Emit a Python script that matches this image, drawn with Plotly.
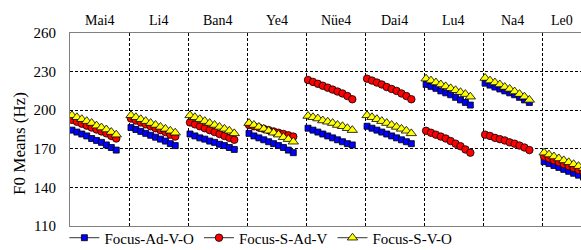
import plotly.graph_objects as go

syllables = ["Mai4", "Li4", "Ban4", "Ye4", "Nüe4", "Dai4", "Lu4", "Na4", "Le0"]
y_ticks = [110, 140, 170, 200, 230, 260]

focus_ad_v_o = [
    [184.5, 183.0, 181.5, 180.0, 178.0, 176.5, 175.0, 173.0, 171.0, 169.0],
    [186.5, 185.0, 183.5, 182.0, 180.5, 179.0, 177.5, 176.0, 174.0, 172.5],
    [181.5, 180.0, 178.5, 177.5, 176.0, 175.0, 173.5, 172.5, 171.0, 169.5],
    [182.0, 180.0, 178.5, 177.0, 175.5, 174.0, 172.5, 171.0, 169.0, 167.0],
    [186.0, 184.5, 183.0, 181.5, 180.0, 178.5, 177.0, 175.5, 174.0, 173.0],
    [187.5, 186.0, 184.5, 183.0, 181.5, 180.0, 178.5, 177.0, 175.5, 174.0],
    [220.0, 218.5, 217.0, 215.0, 213.5, 212.0, 210.0, 208.0, 206.0, 204.0],
    [221.0, 219.5, 218.0, 216.5, 215.0, 213.5, 212.0, 210.0, 208.0, 206.0],
    [160.0, 158.5, 157.0, 155.5, 154.0, 152.5, 151.0, 149.5, 148.0, 147.0],
]
focus_s_ad_v = [
    [192.5, 191.0, 189.5, 188.0, 186.5, 185.0, 183.5, 182.0, 180.0, 178.0],
    [193.5, 192.0, 190.5, 189.0, 187.5, 186.0, 184.5, 183.0, 181.0, 179.5],
    [190.5, 189.0, 187.5, 186.0, 184.5, 183.0, 181.5, 180.0, 178.5, 177.0],
    [188.5, 187.5, 186.5, 185.5, 184.5, 183.5, 182.5, 181.5, 180.5, 179.5],
    [223.5, 222.0, 220.5, 219.0, 217.5, 216.0, 214.5, 213.0, 211.0, 208.5],
    [224.5, 223.0, 221.5, 220.0, 218.0, 216.5, 215.0, 213.0, 211.0, 208.5],
    [184.0, 182.5, 181.0, 179.5, 178.0, 176.0, 174.0, 172.0, 169.5, 167.0],
    [181.0, 180.0, 178.5, 177.5, 176.5, 175.0, 174.0, 172.5, 171.0, 169.0],
    [164.0, 162.5, 161.0, 159.5, 158.0, 156.5, 155.0, 153.5, 152.0, 150.5],
]
focus_s_v_o = [
    [196.0, 194.5, 193.0, 191.5, 190.0, 188.0, 186.5, 185.0, 183.0, 181.0],
    [196.0, 194.5, 193.0, 191.5, 190.0, 188.5, 187.0, 185.5, 184.0, 182.5],
    [196.0, 194.5, 193.0, 191.5, 190.0, 188.5, 187.0, 185.5, 184.0, 182.0],
    [190.0, 188.5, 187.0, 185.5, 184.0, 182.5, 181.0, 179.0, 177.5, 175.5],
    [195.5, 194.5, 193.5, 192.0, 191.0, 190.0, 188.5, 187.5, 186.0, 184.5],
    [196.0, 194.5, 193.0, 191.5, 190.0, 188.5, 187.0, 185.5, 184.0, 182.0],
    [224.5, 223.0, 221.5, 220.0, 218.5, 217.0, 215.5, 214.0, 212.5, 210.5],
    [225.0, 223.0, 221.5, 220.0, 218.0, 216.5, 214.5, 212.5, 210.5, 208.0],
    [167.0, 165.5, 164.0, 162.5, 161.0, 159.5, 158.0, 156.5, 155.0, 153.5],
]

SLOT = 12          # slots per syllable on the x axis (10 samples + gap)
OFF = 0.4          # divider offset before first sample
X_MAX = 103.5

FONT = "Liberation Serif, Times New Roman, serif"


def flatten(series):
    xs, ys = [], []
    for i, vals in enumerate(series):
        for j, v in enumerate(vals):
            xs.append(i * SLOT + j)
            ys.append(v)
        xs.append(None)
        ys.append(None)
    return xs, ys


fig = go.Figure()
specs = [
    ("Focus-Ad-V-O", focus_ad_v_o, "square", 6, "#0000FF"),
    ("Focus-S-Ad-V", focus_s_ad_v, "circle", 7.5, "#FF0000"),
    ("Focus-S-V-O", focus_s_v_o, "triangle-up", 9, "#FFFF00"),
]
for name, data, sym, size, col in specs:
    xs, ys = flatten(data)
    fig.add_trace(go.Scatter(
        x=xs, y=ys, name=name, mode="lines+markers", connectgaps=False,
        line=dict(color="#333333", width=1),
        marker=dict(symbol=sym, size=size, color=col,
                    line=dict(color="#000000", width=0.8)),
    ))

dividers = [i * SLOT - OFF for i in range(1, len(syllables))]

annotations = []
for i, s in enumerate(syllables):
    left = i * SLOT - OFF
    right = min(left + SLOT, X_MAX)
    annotations.append(dict(
        x=(left + right) / 2, y=1, xref="x", yref="paper",
        yanchor="bottom", xanchor="center", yshift=3,
        text=s, showarrow=False, font=dict(family=FONT, size=14, color="black"),
    ))
annotations.append(dict(
    x=-0.1, y=0.43, xref="paper", yref="paper", textangle=-90,
    xanchor="center", yanchor="middle", text="F0 Means (Hz)",
    showarrow=False, font=dict(family=FONT, size=17, color="black"),
))

fig.update_layout(
    width=581, height=250,
    margin=dict(l=70, r=0, t=33, b=24, autoexpand=False),
    paper_bgcolor="white", plot_bgcolor="white",
    font=dict(family=FONT, size=14, color="black"),
    showlegend=True,
    legend=dict(orientation="h", x=-0.011, xanchor="left", y=-0.062,
                yanchor="middle", font=dict(family=FONT, size=15),
                bgcolor="rgba(0,0,0,0)", itemwidth=30, tracegroupgap=0),
    annotations=annotations,
    xaxis=dict(range=[-OFF, X_MAX], tickvals=dividers, showticklabels=False,
               ticks="", showgrid=True, gridcolor="black", gridwidth=1,
               griddash="3px,2px", zeroline=False, showline=True,
               linecolor="#808080", linewidth=1, mirror=True),
    yaxis=dict(range=[110, 260], tickvals=y_ticks, ticks="",
               showgrid=True, gridcolor="black", gridwidth=1,
               griddash="3px,2px", zeroline=False, showline=True,
               linecolor="#808080", linewidth=1, ticklabelstandoff=10,
               tickfont=dict(family=FONT, size=15, color="black")),
)

fig.write_html(
    "out.html",
    config={"displayModeBar": False},
    post_script="document.body.style.margin='0';document.body.style.overflow='hidden';",
)
